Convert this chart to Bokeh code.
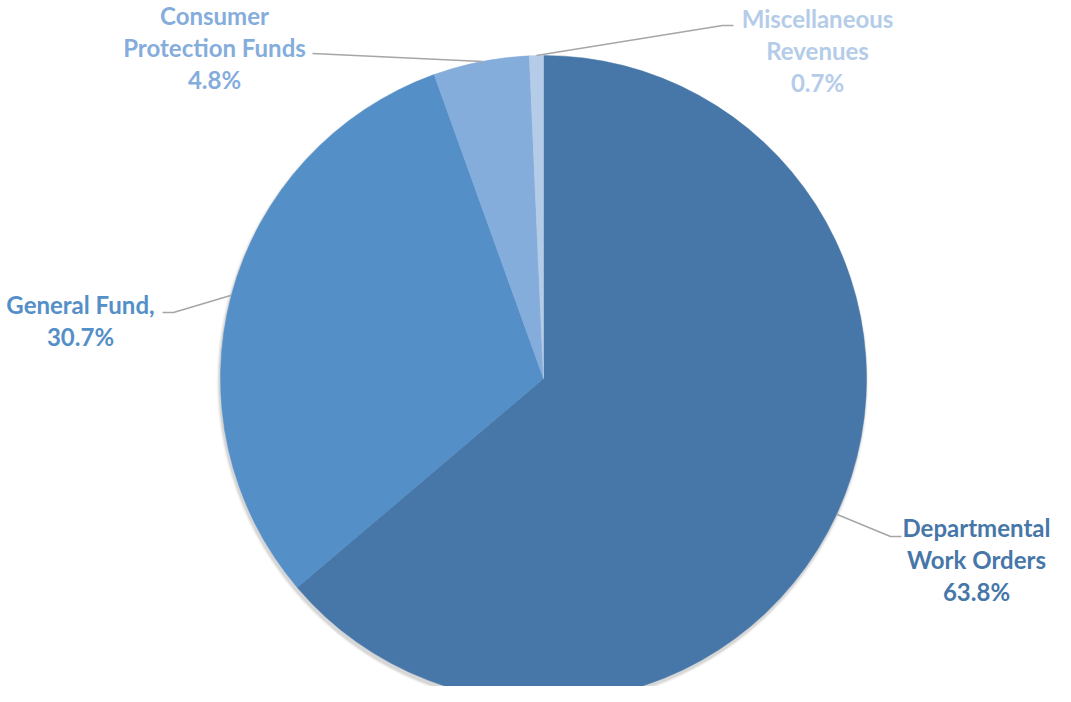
import math
from bokeh.plotting import figure
from bokeh.models import Range1d, ColumnDataSource
from bokeh.core.properties import value
from bokeh.embed import file_html
from bokeh.resources import INLINE

# ---- data ----
categories = ["Departmental Work Orders", "General Fund", "Consumer Protection Funds", "Miscellaneous Revenues"]
label_lines = [["Departmental", "Work Orders", "63.8%"],
               ["General Fund,", "30.7%"],
               ["Consumer", "Protection Funds", "4.8%"],
               ["Miscellaneous", "Revenues", "0.7%"]]
shares = [63.8, 30.7, 4.8, 0.7]
colors = ["#4677A8", "#548FC7", "#85ADDC", "#B4CCE8"]

W, H = 1055, 686
def X(ix): return ix
def Y(iy): return H - iy

p = figure(width=W, height=H, output_backend="svg", toolbar_location=None,
           x_range=Range1d(0, W), y_range=Range1d(0, H), min_border=0)
p.axis.visible = False
p.grid.visible = False
p.outline_line_color = None
p.background_fill_color = "white"

cx, cy, R = X(543), Y(378), 323

# soft shadow
for k, a in [(6, 0.03), (4, 0.05), (2, 0.08)]:
    p.circle(x=[cx - 1], y=[cy - 3], radius=R + k * 0.5, fill_color="black", fill_alpha=a, line_color=None)

total = sum(shares)
starts, ends, mids = [], [], []
cum = 0.0
for s in shares:
    a0 = math.pi / 2 - cum / total * 2 * math.pi
    cum += s
    a1 = math.pi / 2 - cum / total * 2 * math.pi
    starts.append(a0); ends.append(a1); mids.append((a0 + a1) / 2)

src = ColumnDataSource(dict(x=[cx] * 4, y=[cy] * 4, start=starts, end=ends, color=colors, name=categories))
p.wedge(x="x", y="y", radius=R, start_angle="start", end_angle="end", direction="clock",
        fill_color="color", line_color="color", line_width=0.5, source=src)

# leader lines: edge point -> elbow -> end (layout, image coords)
elbows = [[(890, 536), (901, 536)],
          [(173, 312), (162, 312)],
          [(482, 61), (312, 53)],
          [(722, 25), (733, 25)]]
for i, el in enumerate(elbows):
    ex = cx + R * math.cos(mids[i])
    ey = cy + R * math.sin(mids[i])
    xs = [ex] + [X(a) for a, b in el]
    ys = [ey] + [Y(b) for a, b in el]
    p.line(xs, ys, line_color="#A6A6A6", line_width=1.5)

# labels (layout, image coords of first line centre)
label_pos = [(976, 527), (80, 304), (214, 15), (817, 18)]
gap = 32
for i, lines in enumerate(label_lines):
    lx, ly = label_pos[i]
    p.text(x=[X(lx)] * len(lines), y=[Y(ly + gap * j) for j in range(len(lines))], text=lines,
           text_color=colors[i], text_font=value("Lato"), text_font_style="bold",
           text_font_size="24px", text_align="center", text_baseline="middle")

open("out.html", "w").write(file_html(p, INLINE))
